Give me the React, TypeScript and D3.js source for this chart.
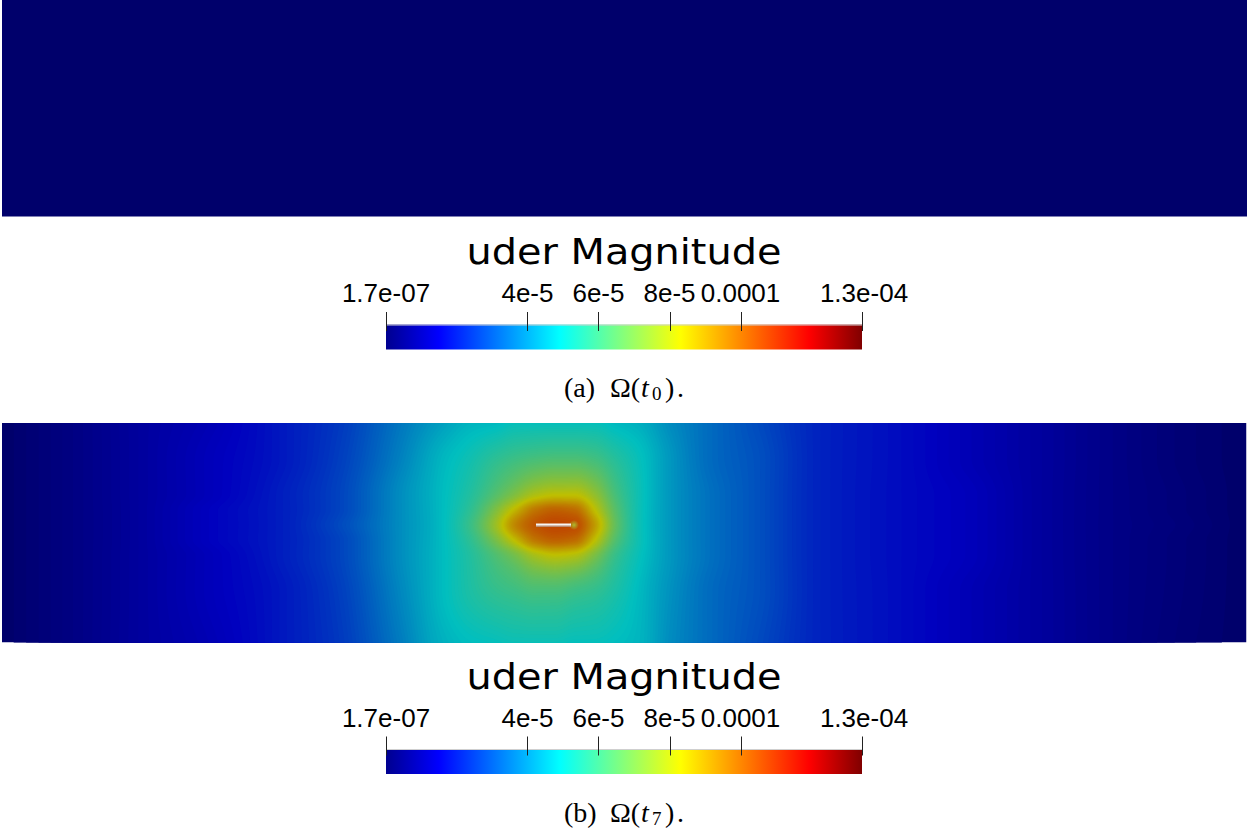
import React, { useMemo } from 'react';
import * as d3 from 'd3';

// ---- colour map / legend data ----
const V_MIN = 1.7e-7;
const V_MAX = 1.342e-4;
const TICK_VALUES = [4e-5, 6e-5, 8e-5, 1e-4];
const TICK_LABELS = ['4e-5', '6e-5', '8e-5', '0.0001'];
const END_LABELS = ['1.7e-07', '1.3e-04'];
const LEGEND_TITLE = 'uder Magnitude';
const JET_POS = [0, 0.111111, 0.365079, 0.492063, 0.619048, 0.888889, 1];
const JET_RGB = [
  [0, 0, 0.5625],
  [0, 0, 1],
  [0, 1, 1],
  [0.5, 1, 0.5],
  [1, 1, 0],
  [1, 0, 0],
  [0.5, 0, 0],
];

// ---- field samples (domain units: panel 0..1245 wide, 0..219 tall), values in 1e-6 ----
const FIELD_T0_VALUE = 0.17;
const COLS = [0, 68, 138, 208, 278, 338, 398, 438, 468, 493, 513, 533, 553, 573, 593, 613, 638, 668, 708, 758, 818, 898, 968, 1038, 1108, 1178, 1245];
const ROWS = [0, 37, 72, 87, 102, 117, 132, 167, 219];
const ROW0 = [0.2, 4, 9, 13, 19, 25, 36, 43, 47, 48, 50, 50, 50, 50, 50, 48, 46, 40, 34, 28, 21, 17, 13, 9, 5, 2, 0.2];
const ROW1 = [0.2, 4, 9, 14, 19, 26, 38, 47, 52, 57, 60, 62, 63, 63, 61, 56, 50, 42, 34, 29, 21, 17, 13, 9, 5, 2, 0.2];
const ROW2 = [0.2, 4, 9, 14, 20, 27, 40, 48, 55, 64, 72, 80, 83, 83, 75, 62, 51, 42, 35, 29, 21, 17, 14, 9, 5, 2.4, 0.2];
const ROW3 = [0.2, 4, 9, 15, 20, 27, 40, 48, 57, 71, 85, 97, 101, 99, 83, 65, 51, 42, 35, 29, 21, 17, 14, 9, 5, 2.4, 0.2];
const ROW4 = [0.2, 4, 9, 15, 20, 28, 40, 48, 59, 76, 94, 103, 106, 105, 90, 67, 51, 42, 35, 29, 21, 17, 14, 9, 5, 2.7, 0.2];
const ROW5 = [0.2, 4, 9, 15, 20, 27, 40, 48, 57, 70, 84, 97, 101, 99, 83, 64, 51, 42, 35, 29, 21, 17, 14, 9, 5, 2.4, 0.2];
const ROW6 = [0.2, 4, 9, 14, 20, 27, 40, 48, 55, 63, 70, 79, 83, 81, 71, 59, 50, 42, 35, 29, 21, 17, 14, 9, 5, 2.4, 0.2];
const ROW7 = [0.2, 4, 9, 14, 19, 26, 39, 48, 54, 58, 60, 62, 62, 60, 58, 54, 48, 41, 34, 29, 21, 17, 13, 9, 5, 2.3, 0.2];
const ROW8 = [0.2, 4, 9, 13, 19, 25, 37, 46, 49, 50, 51, 51, 51, 50, 50, 49, 47, 40, 34, 28, 21, 17, 13, 9, 5, 2, 0.2];
const FIELD_T7 = [ROW0, ROW1, ROW2, ROW3, ROW4, ROW5, ROW6, ROW7, ROW8];
const CRACK = { x1: 534, x2: 569, y: 102 };

const SHADE = 0.75;

function monotone(xs: number[], ys: number[]) {
  const n = xs.length;
  const h: number[] = [];
  const d: number[] = [];
  for (let i = 0; i < n - 1; i++) {
    h[i] = xs[i + 1] - xs[i];
    d[i] = (ys[i + 1] - ys[i]) / h[i];
  }
  const m: number[] = new Array(n);
  m[0] = d[0];
  m[n - 1] = d[n - 2];
  for (let i = 1; i < n - 1; i++) {
    if (d[i - 1] * d[i] <= 0) m[i] = 0;
    else {
      const w1 = 2 * h[i] + h[i - 1];
      const w2 = h[i] + 2 * h[i - 1];
      m[i] = (w1 + w2) / (w1 / d[i - 1] + w2 / d[i]);
    }
  }
  const bis = d3.bisector((v: number) => v).right;
  return (x: number) => {
    if (x <= xs[0]) return ys[0];
    if (x >= xs[n - 1]) return ys[n - 1];
    const i = Math.min(n - 2, bis(xs, x) - 1);
    const t = (x - xs[i]) / h[i];
    const t2 = t * t, t3 = t2 * t;
    return (2 * t3 - 3 * t2 + 1) * ys[i] + (t3 - 2 * t2 + t) * h[i] * m[i] +
      (-2 * t3 + 3 * t2) * ys[i + 1] + (t3 - t2) * h[i] * m[i + 1];
  };
}

const jetScale = d3
  .scaleLinear<string>()
  .domain(JET_POS.map((p) => V_MIN + p * (V_MAX - V_MIN)))
  .range(JET_RGB.map((c) => d3.rgb(c[0] * 255, c[1] * 255, c[2] * 255).toString()))
  .interpolate(d3.interpolateRgb)
  .clamp(true);

const shaded = (v: number) => {
  const c = d3.rgb(jetScale(v));
  return d3.rgb(c.r * SHADE, c.g * SHADE, c.b * SHADE).toString();
};

const FONT_SANS = 'Liberation Sans, Arial, sans-serif';
const FONT_TITLE = 'DejaVu Sans, sans-serif';
const FONT_SERIF = 'Liberation Serif, Times New Roman, serif';

function Legend({ dy, letter, sub, gid }: { dy: number; letter: string; sub: string; gid: string }) {
  const x = d3.scaleLinear().domain([V_MIN, V_MAX]).range([386, 862]);
  const barTop = 324.5 + dy;
  const barH = 25;
  const ticks = [V_MIN, ...TICK_VALUES, V_MAX];
  const capY = 397 + dy;
  return (
    <g>
      <defs>
        <linearGradient id={gid} x1="0" x2="1" y1="0" y2="0">
          {JET_POS.map((p, i) => (
            <stop key={i} offset={p} stopColor={d3.rgb(JET_RGB[i][0] * 255, JET_RGB[i][1] * 255, JET_RGB[i][2] * 255).toString()} />
          ))}
        </linearGradient>
      </defs>
      <text x={624} y={264 + dy} textAnchor="middle" fontFamily={FONT_TITLE} fontSize={35} textLength={315} lengthAdjust="spacingAndGlyphs" fill="#000">
        {LEGEND_TITLE}
      </text>
      <rect x={x(V_MIN)} y={barTop} width={x(V_MAX) - x(V_MIN)} height={barH} fill={`url(#${gid})`} />
      <line x1={x(V_MIN)} x2={x(V_MAX)} y1={barTop + 0.5} y2={barTop + 0.5} stroke="#cfcfcf" strokeWidth={1} />
      {ticks.map((t, i) => (
        <line key={i} x1={Math.round(x(t)) + 0.5} x2={Math.round(x(t)) + 0.5} y1={312 + dy} y2={331 + dy} stroke="#222" strokeWidth={1} />
      ))}
      <text x={x(V_MIN)} y={302 + dy} textAnchor="middle" fontFamily={FONT_SANS} fontSize={26} fill="#000">{END_LABELS[0]}</text>
      <text x={x(V_MAX) + 2} y={302 + dy} textAnchor="middle" fontFamily={FONT_SANS} fontSize={26} fill="#000">{END_LABELS[1]}</text>
      {TICK_VALUES.map((t, i) => (
        <text key={i} x={x(t)} y={302 + dy} textAnchor="middle" fontFamily={FONT_SANS} fontSize={26} fill="#000">
          {TICK_LABELS[i]}
        </text>
      ))}
      <text y={capY} fontFamily={FONT_SERIF} fontSize={28} fill="#000">
        <tspan x={564}>({letter})</tspan>
        <tspan x={610}>Ω(</tspan>
        <tspan x={641} fontStyle="italic">t</tspan>
      </text>
      <text x={652} y={capY + 3} fontFamily={FONT_SERIF} fontSize={19} fill="#000">{sub}</text>
      <text y={capY} fontFamily={FONT_SERIF} fontSize={28} fill="#000">
        <tspan x={665}>)</tspan>
        <tspan x={677}>.</tspan>
      </text>
    </g>
  );
}

export default function App() {
  const step = 2;
  const W = 1245, H = 219;
  const nx = Math.ceil(W / step) + 1;
  const ny = Math.ceil(H / step) + 1;
  const px0 = 2, py0 = 423;

  const paths = useMemo(() => {
    const rowFns = FIELD_T7.map((r) => monotone(COLS, r));
    const rowVals = rowFns.map((f) => d3.range(nx).map((i) => f(i * step)));
    const values = new Array(nx * ny);
    for (let i = 0; i < nx; i++) {
      const g = monotone(ROWS, rowVals.map((r) => r[i]));
      for (let j = 0; j < ny; j++) values[j * nx + i] = g(j * step);
    }
    const lo = V_MIN * 1e6, hi = V_MAX * 1e6;
    const nLev = 200;
    const dv = (hi - lo) / nLev;
    const thresholds = d3.range(1, nLev).map((k) => lo + k * dv);
    const contours = d3.contours().size([nx, ny]).thresholds(thresholds)(values);
    const proj = d3.geoIdentity().scale(step).translate([px0 - step / 2, py0 - step / 2]);
    const gp = d3.geoPath(proj as any);
    return contours
      .filter((c) => c.coordinates.length > 0)
      .map((c) => ({ d: gp(c as any) || '', fill: shaded((c.value + dv / 2) * 1e-6) }));
  }, []);

  const cx = (v: number) => px0 + v;
  const cy = (v: number) => py0 + v;

  return (
    <svg width={1247} height={828} style={{ position: 'absolute', left: 0, top: 0, background: '#fff' }} xmlns="http://www.w3.org/2000/svg">
      <defs>
        <clipPath id="clipB">
          <rect x={2} y={423} width={1244.5} height={219.5} />
        </clipPath>
        <radialGradient id="tipGlow">
          <stop offset="0" stopColor="#a8c832" stopOpacity={0.9} />
          <stop offset="1" stopColor="#a8c832" stopOpacity={0} />
        </radialGradient>
      </defs>
      {/* top panel: Omega(t0) */}
      <rect x={2} y={0} width={1245} height={216.5} fill={shaded(FIELD_T0_VALUE * 1e-6)} />
      <Legend dy={0} letter="a" sub="0" gid="jetA" />

      {/* bottom panel: Omega(t7) */}
      <g clipPath="url(#clipB)">
        <rect x={2} y={423} width={1244.5} height={219.5} fill={shaded(V_MIN)} />
        {paths.map((p, i) => (
          <path key={i} d={p.d} fill={p.fill} />
        ))}
      </g>
      <circle cx={cx(CRACK.x2) + 3} cy={cy(CRACK.y)} r={5} fill="url(#tipGlow)" />
      <rect x={cx(CRACK.x1)} y={cy(CRACK.y) - 1.5} width={CRACK.x2 - CRACK.x1} height={2.2} fill="#f6f6f6" />
      <rect x={cx(CRACK.x1)} y={cy(CRACK.y) + 0.7} width={CRACK.x2 - CRACK.x1} height={0.9} fill="#b8b8b8" />
      <Legend dy={424.5} letter="b" sub="7" gid="jetB" />
    </svg>
  );
}
